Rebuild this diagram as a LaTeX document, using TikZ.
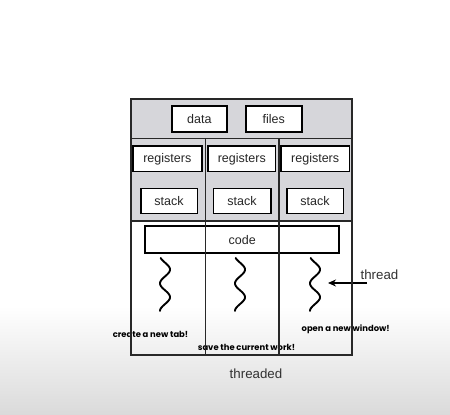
\documentclass[tikz,border=0pt]{standalone}
\usepackage{fontspec}
\setmainfont{Liberation Sans}
\newfontfamily\comicfont{Poppins}
\usetikzlibrary{arrows.meta}
\definecolor{panelgray}{RGB}{214,214,218}
\definecolor{framecol}{RGB}{40,40,40}
\definecolor{bgbottom}{RGB}{218,218,218}
\definecolor{labelcol}{RGB}{50,50,50}
\tikzset{
  cell/.style={draw=black, line width=1.6pt, fill=white, inner sep=0pt,
    font=\fontsize{12.5}{14}\selectfont, text=black!85},
  wiggle/.style={line width=1.9pt, line cap=round, black},
  note/.style={font=\comicfont\bfseries\fontsize{8.4}{9}\selectfont, inner sep=0pt, text=black},
  edge/.style={framecol, line width=1.3pt},
  caption/.style={font=\fontsize{13.3}{15}\selectfont, text=labelcol, inner sep=0pt}
}
\begin{document}
\begin{tikzpicture}[x=1pt,y=-1pt]
\useasboundingbox (0,0) rectangle (450,415);
% background
\fill[white] (0,0) rectangle (450,307);
\shade[top color=white, bottom color=bgbottom] (0,306.5) rectangle (450,415);
% gray panel
\fill[panelgray] (131,99) rectangle (352,221);
% boxes
\node[cell, minimum width=55pt, minimum height=26pt] (data) at (199.3,119) {data};
\node[cell, minimum width=56pt, minimum height=26pt] (files) at (273.7,119) {files};
\node[cell, minimum width=69pt, minimum height=25.7pt] (reg1) at (167.3,158.8) {registers};
\node[cell, minimum width=67.7pt, minimum height=25.7pt] (reg2) at (241.8,158.8) {registers};
\node[cell, minimum width=68.3pt, minimum height=25.7pt] (reg3) at (315.2,158.8) {registers};
\node[cell, minimum width=56.6pt, minimum height=25pt] (stk1) at (169,200.8) {stack};
\node[cell, minimum width=57.4pt, minimum height=25pt] (stk2) at (242,200.8) {stack};
\node[cell, minimum width=56.6pt, minimum height=25pt] (stk3) at (315,200.8) {stack};
\node[cell, minimum width=194pt, minimum height=27pt] (code) at (242.2,239.7) {code};
% threads
\foreach \cx in {165,240,315}{
  \draw[wiggle] plot[domain=-60:630, samples=80, smooth, variable=\t]
    ({\cx+5*sin(\t)}, {258+(\t+60)*0.0768});
}
\coordinate (w3tip) at (328,283);
\coordinate (arrowstart) at (367,283);
\node[caption] (threadlbl) at (379.5,275) {thread};
\draw[black, line width=1.5pt, -{Stealth[length=8pt,width=7pt]}] (arrowstart) -- (w3tip);
% notes
\node[note] (n1) at (150.5,334) {create a new tab!};
\node[note] (n2) at (246.5,347.7) {save the current work!};
\node[note] (n3) at (345.7,329) {open a new window!};
% frame
\draw[edge] (131,99) rectangle (352,355);
\draw[edge] (131,138.5) -- (352,138.5);
\draw[edge] (131,221) -- (352,221);
\draw[edge] (205.7,138.5) -- (205.7,355);
\draw[edge] (279,138.5) -- (279,355);
% caption
\node[caption] (cap) at (256,374) {threaded};
\end{tikzpicture}
\end{document}
